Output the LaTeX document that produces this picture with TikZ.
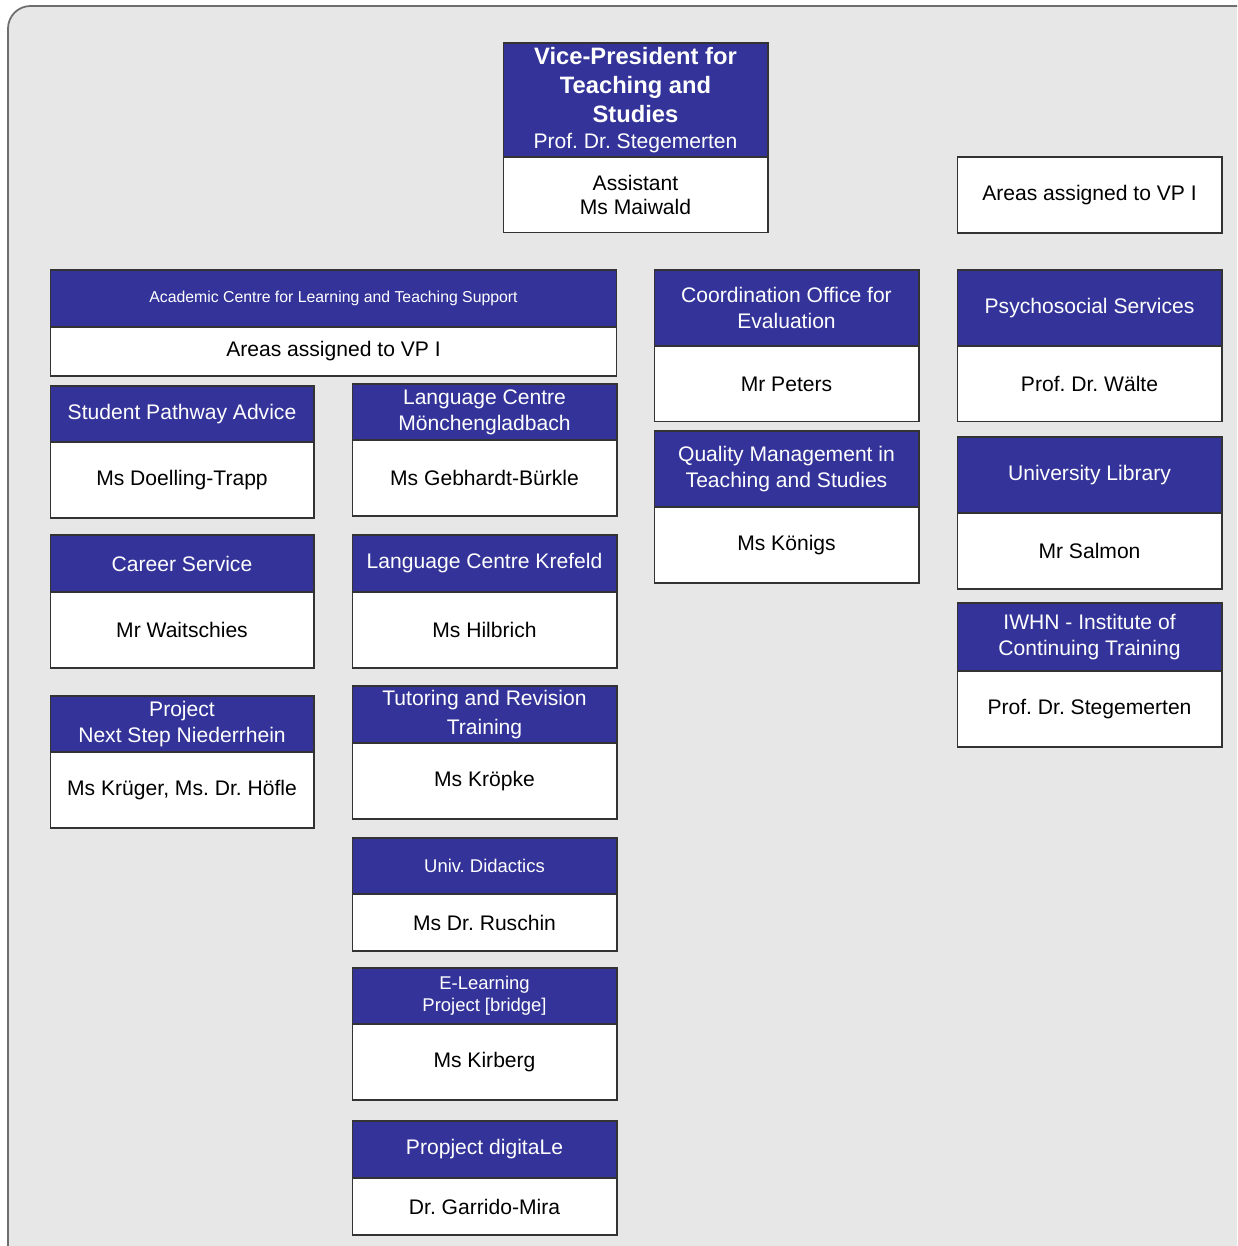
\documentclass[tikz,border=0pt]{standalone}
\usepackage{fontspec}
\setmainfont{Liberation Sans}
\usetikzlibrary{positioning}
\definecolor{unitblue}{RGB}{51,51,153}
\definecolor{sheetgray}{RGB}{231,231,231}
\definecolor{rimgray}{RGB}{110,110,110}
\frenchspacing

\begin{document}
\begin{tikzpicture}
            [x=0.02cm, y=-0.02cm, line width=0.6pt,
             head/.style={draw=black!80, fill=unitblue, text=white, align=center, inner sep=1pt, outer sep=0pt,
                          anchor=north, minimum width=5.3cm, minimum height=1.14cm,
                          font=\fontsize{12}{14.8}\selectfont},
             body/.style={draw=black!80, fill=white, align=center, inner sep=1pt, outer sep=0pt,
                          minimum width=5.3cm, minimum height=1.52cm,
                          font=\fontsize{12}{14.2}\selectfont},
             smallhead/.style={head, font=\fontsize{10.5}{12.5}\selectfont}]
            \useasboundingbox (0, 0) rectangle (1237, 1246);
            \clip (0, 0) rectangle (1237, 1246);
            \draw[rimgray, fill=sheetgray, line width=1pt, rounded corners=0.45cm] (8, 6) rectangle (1270, 1280);

            \node[head, minimum height=2.28cm, font=\fontsize{13.5}{16.5}\selectfont\bfseries] (vp) at (635.5, 43)
                {Vice-President for\\Teaching and\\Studies\\[-1.5pt]{\mdseries\fontsize{12}{14}\selectfont Prof. Dr. Stegemerten}};
            \node[body, below=0pt of vp] (vpname) {Assistant\\Ms Maiwald};
            \node[body, anchor=north] (areasvp) at (1089.5, 157) {Areas assigned to VP I};

            \node[head, minimum width=11.34cm, font=\fontsize{9}{11}\selectfont] (acad) at (333.5, 270)
                {Academic Centre for Learning and Teaching Support};
            \node[body, minimum width=11.34cm, minimum height=0.98cm, below=0pt of acad] (acadname) {Areas assigned to VP I};

            \node[head, minimum width=5.28cm, minimum height=1.12cm] (pathway) at (182, 386) {Student Pathway Advice};
            \node[body, minimum width=5.28cm, below=0pt of pathway] (pathwayname) {Ms Doelling-Trapp};
            \node[head, minimum width=5.28cm] (career) at (182, 535) {Career Service};
            \node[body, minimum width=5.28cm, below=0pt of career] (careername) {Mr Waitschies};
            \node[head, minimum width=5.28cm, minimum height=1.12cm] (nextstep) at (182, 696) {Project\\Next Step Niederrhein};
            \node[body, minimum width=5.28cm, below=0pt of nextstep] (nextstepname) {Ms Krüger, Ms. Dr. Höfle};

            \node[head, minimum height=1.12cm] (langmg) at (484.5, 384) {Language Centre\\Mönchengladbach};
            \node[body, below=0pt of langmg] (langmgname) {Ms Gebhardt-Bürkle};
            \node[head] (langkr) at (484.5, 535) {Language Centre Krefeld};
            \node[body, below=0pt of langkr] (langkrname) {Ms Hilbrich};
            \node[head, font=\fontsize{12}{17}\selectfont] (tutoring) at (484.5, 686) {Tutoring and Revision\\Training};
            \node[body, below=0pt of tutoring] (tutoringname) {Ms Kröpke};
            \node[smallhead, minimum height=1.12cm] (didactics) at (484.5, 838) {Univ. Didactics};
            \node[body, minimum height=1.14cm, below=0pt of didactics] (didacticsname) {Ms Dr. Ruschin};
            \node[smallhead, minimum height=1.12cm] (elearning) at (484.5, 968) {E-Learning\\Project [bridge]};
            \node[body, below=0pt of elearning] (elearningname) {Ms Kirberg};
            \node[head] (digitale) at (484.5, 1121) {Propject digitaLe};
            \node[body, minimum height=1.14cm, below=0pt of digitale] (digitalename) {Dr. Garrido-Mira};

            \node[head, minimum height=1.52cm] (evaluation) at (786.5, 270) {Coordination Office for\\Evaluation};
            \node[body, below=0pt of evaluation] (evaluationname) {Mr Peters};
            \node[head, minimum height=1.52cm] (quality) at (786.5, 431) {Quality Management in\\Teaching and Studies};
            \node[body, below=0pt of quality] (qualityname) {Ms Königs};

            \node[head, minimum height=1.52cm] (psycho) at (1089.5, 270) {Psychosocial Services};
            \node[body, below=0pt of psycho] (psychoname) {Prof. Dr. Wälte};
            \node[head, minimum height=1.52cm] (library) at (1089.5, 437) {University Library};
            \node[body, below=0pt of library] (libraryname) {Mr Salmon};
            \node[head, minimum height=1.36cm] (iwhn) at (1089.5, 603) {IWHN - Institute of\\Continuing Training};
            \node[body, below=0pt of iwhn] (iwhnname) {Prof. Dr. Stegemerten};
        \end{tikzpicture}
\end{document}
